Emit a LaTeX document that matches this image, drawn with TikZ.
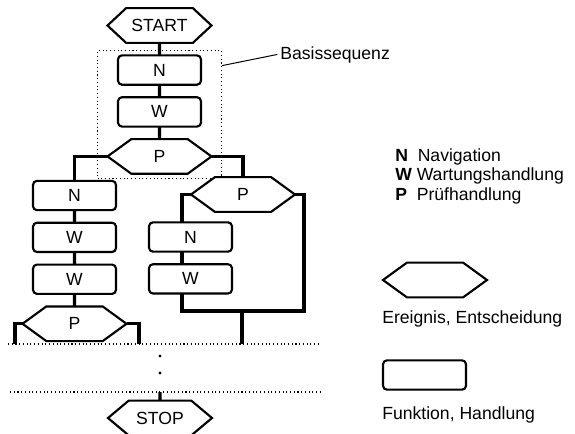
\documentclass[tikz,border=0pt]{standalone}
\usepackage{fontspec}
\setmainfont{Liberation Sans}
\usepackage{tikz}
\usetikzlibrary{positioning, shapes.symbols, fit, backgrounds, calc}
\tikzset{
  fkt/.style ={rectangle, rounded corners=3pt, draw, line width=1.6pt, fill=white, outer sep=0pt, inner sep=0pt, minimum width=62.25pt, minimum height=22pt},
  evt/.style ={signal, signal to=west and east, signal pointer angle=72, draw, line width=1.6pt, fill=white, outer sep=0pt, inner sep=0pt, minimum width=78pt, minimum height=26pt},
  sq/.style  ={line width=2.3pt},
  grp/.style ={rectangle, draw, dotted, line width=0.8pt, inner xsep=7.5pt, inner ysep=3.5pt},
  sep/.style ={dotted, line width=0.8pt},
  lbl/.style ={anchor=base west, inner sep=0pt},
}

\begin{document}
\begin{tikzpicture}[x=0.75pt, y=-0.75pt, node distance=9.4pt, font=\fontsize{13.2}{15}\selectfont]
  \useasboundingbox (0,0) rectangle (575,433);
  % Basissequenz
  \node[evt, signal pointer angle=86] (start) at (159.5,25.5) {START};
  \node[fkt, below=of start] (n1) {N};
  \node[fkt, below=of n1] (w1) {W};
  \node[evt, below=of w1] (p1) {P};
  % linker Zweig
  \node[fkt] (n2) at (74.5,195.5) {N};
  \node[fkt, below=of n2] (w2) {W};
  \node[fkt, below=of w2] (w3) {W};
  \node[evt, below=of w3] (p3) {P};
  % rechter Zweig
  \node[evt] (p2) at (243,194.5) {P};
  \node[fkt] (n3) at (190.5,237) {N};
  \node[fkt, below=of n3] (w4) {W};
  \node[evt, signal pointer angle=80] (stop) at (160,418) {STOP};
  \coordinate (rl) at (182,311);
  \coordinate (rr) at (304,311);
  \coordinate (mj) at (242,311);
  \coordinate (sa) at (8,344);
  \coordinate (sb) at (318,344);
  \coordinate (sc) at (10,392);
  \coordinate (sd) at (320,392);
  \coordinate (pl) at (15,344);
  \coordinate (pr) at (139,344);
  \begin{scope}[on background layer]
    \node[grp, fit=(n1)(w1)(p1)] (bs) {};
    \draw[sq] (start) -- (n1) -- (w1) -- (p1);
    \draw[sq] (p1.west) -| (n2.north);
    \draw[sq] (p1.east) -| (p2.north);
    \draw[sq] (n2) -- (w2) -- (w3) -- (p3);
    \draw[sq] (p3.west) -| (pl);
    \draw[sq] (p3.east) -| (pr);
    \draw[sq] (p2.west) -| (rl) -- (rr) |- (p2.east);
    \draw[sq] (mj) -- (mj |- sa);
    \draw[sq] (stop) -- (stop |- sc);
  \end{scope}
  \draw[sep] (sa) -- (sb);
  \draw[sep] (sc) -- (sd);
  \fill (160,356) circle (1.2pt);
  \fill (160,373) circle (1.2pt);
  \node[lbl] (bsl) at (280,59) {Basissequenz};
  \draw[line width=0.75pt] ($(bs.north east)!0.12!(bs.south east)$) -- ([xshift=-2pt]bsl.west);
  % Legende
  \node[lbl] (ln) at (395,161) {\textbf{N}~~Navigation};
  \node[lbl] (lw) at (395,180.5) {\textbf{W} Wartungshandlung};
  \node[lbl] (lp) at (395,200) {\textbf{P}~~Prüfhandlung};
  \node[evt] (lhex) at (435,280) {};
  \node[lbl] (lhext) at (382,323) {Ereignis, Entscheidung};
  \node[fkt] (lbox) at (424.5,375) {};
  \node[lbl] (lboxt) at (382,419) {Funktion, Handlung};
\end{tikzpicture}
\end{document}
